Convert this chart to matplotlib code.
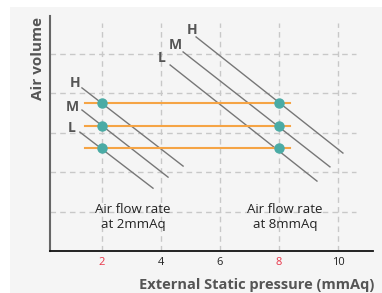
import matplotlib
matplotlib.use("Agg")
import matplotlib.pyplot as plt
from matplotlib.patches import Rectangle

plt.rcParams['font.family'] = ['Open Sans', 'DejaVu Sans']

# operating points (x = static pressure, y = air volume)
speeds = ["L", "M", "H"]
op_levels = [2.61, 3.16, 3.75]
op_pressures = [2, 8]
orange_x = [1.42, 8.37]

# fan curves: (x start, y start, x end, y end) for each speed
curves_low = {"L": [1.25, 3.01, 3.73, 1.59],
              "M": [1.32, 3.57, 4.24, 1.87],
              "H": [1.32, 4.13, 4.75, 2.15]}
curves_high = {"L": [4.31, 4.71, 9.29, 1.77],
               "M": [4.75, 5.04, 9.73, 2.13],
               "H": [5.19, 5.42, 10.17, 2.48]}
label_low = {"L": (0.98, 3.11), "M": (0.98, 3.65), "H": (1.08, 4.25)}
label_high = {"L": (4.03, 4.89), "M": (4.47, 5.22), "H": (5.05, 5.6)}

xticks = [2, 4, 6, 8, 10]
grid_y = [1, 2, 3, 4, 5]

fig = plt.figure(figsize=(3.82, 2.93), dpi=100)
fig.patch.set_facecolor("white")
fig.patches.append(Rectangle((10/382, 0), 1, (293-7)/293, transform=fig.transFigure,
                             facecolor="#f5f5f5", edgecolor="none", zorder=-10))

ax = fig.add_axes([50/382, (293-251)/293, (373-50)/382, (251-16)/293])
ax.set_facecolor("none")
ax.set_xlim(0.237, 11.19)
ax.set_ylim(0, 5.95)

grid_kw = dict(color="#c8c8c8", lw=1, ls=(0, (4, 3)), zorder=1)
for x in xticks:
    ax.plot([x, x], [0, 5.77], **grid_kw)
for y in grid_y:
    ax.plot([0.237, 10.6], [y, y], **grid_kw)

for curves, labels in [(curves_low, label_low), (curves_high, label_high)]:
    for s in speeds:
        x0, y0, x1, y1 = curves[s]
        ax.plot([x0, x1], [y0, y1], color="#777777", lw=1, zorder=2)
        lx, ly = labels[s]
        ax.text(lx, ly, s, fontsize=10, fontweight="bold", color="#555555",
                ha="center", va="center")

for y in op_levels:
    ax.plot(orange_x, [y, y], color="#f5a445", lw=1.5, zorder=3)
    ax.plot(op_pressures, [y, y], "o", color="#4aaba5", ms=6.5, zorder=4)

ax.text(3.05, 0.86, "Air flow rate\nat 2mmAq", fontsize=9.5, color="#222222",
        ha="center", va="center", linespacing=1.2)
ax.text(8.2, 0.86, "Air flow rate\nat 8mmAq", fontsize=9.5, color="#222222",
        ha="center", va="center", linespacing=1.2)

for side in ["top", "right"]:
    ax.spines[side].set_visible(False)
ax.spines["left"].set_color("#666666")
ax.spines["left"].set_linewidth(1.5)
ax.spines["bottom"].set_color("#111111")
ax.spines["bottom"].set_linewidth(1.3)

ax.set_yticks([])
ax.set_xticks(xticks)
ax.set_xticklabels([str(x) for x in xticks], fontsize=8)
ax.tick_params(axis="x", length=0, pad=4)
for lbl, x in zip(ax.get_xticklabels(), xticks):
    lbl.set_color("#e8364a" if x in op_pressures else "#222222")

fig.text(257/382, 1 - 285/293, "External Static pressure (mmAq)", fontsize=10.5,
         fontweight="bold", color="#555555", ha="center", va="center")
fig.text(38/382, 1 - 58/293, "Air volume", fontsize=11, fontweight="bold",
         color="#555555", ha="center", va="center", rotation=90)

fig.savefig("out.png", dpi=100, facecolor=fig.get_facecolor())
